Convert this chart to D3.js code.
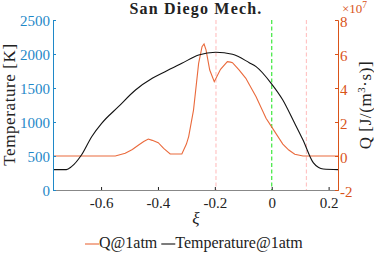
<!DOCTYPE html>
<html>
<head>
<meta charset="utf-8">
<script src="https://cdn.jsdelivr.net/npm/d3@7"></script>
<style>
  body { margin: 0; background: #fff; }
</style>
</head>
<body>
<div id="chart"></div>
<script>
// temperature profile (K) over mixture-fraction coordinate xi
var tempXi = [-0.769, -0.722, -0.704, -0.669, -0.633, -0.598, -0.539, -0.479, -0.42, -0.375,
              -0.316, -0.257, -0.197, -0.138, -0.079, -0.055, -0.002, 0.039, 0.075, 0.11,
              0.146, 0.165, 0.181, 0.233];
var tempK = [300, 300, 343, 515, 784, 980, 1225, 1470, 1642, 1740,
             1863, 1985, 2025, 1995, 1872, 1814, 1569, 1323, 1029, 735,
             402, 330, 309, 300];

// heat release Q, in units of 1e7 J/(m^3 s)
var qXi = [-0.769, -0.55, -0.515, -0.49, -0.468, -0.45, -0.434, -0.42, -0.399, -0.38,
           -0.357, -0.316, -0.3, -0.292, -0.275, -0.257, -0.245, -0.238, -0.231, -0.218,
           -0.202, -0.18, -0.156, -0.145, -0.138, -0.115, -0.091, -0.079, -0.055, -0.02,
           -0.002, 0.039, 0.06, 0.081, 0.11, 0.233];
var qVal = [0, 0, 0.16, 0.38, 0.65, 0.85, 1.0, 0.92, 0.78, 0.45,
            0.12, 0.12, 0.7, 1.14, 2.7, 5.45, 6.43, 6.59, 6.24, 5.06,
            4.37, 5.1, 5.55, 5.52, 5.49, 5.06, 4.57, 4.2, 3.49, 2.22,
            1.76, 0.7, 0.35, 0.1, 0, 0];

var xTicks = [-0.6, -0.4, -0.2, 0, 0.2];
var tTicks = [0, 500, 1000, 1500, 2000, 2500];
var qTicks = [-2, 0, 2, 4, 6, 8];
var markLines = [
  {xi: -0.196, color: "#ffc4c4"},
  {xi: 0, color: "#3de83d"},
  {xi: 0.122, color: "#ffc4c4"}
];

var width = 374, height = 253;
var m = {top: 20, right: 36, bottom: 63, left: 53};
var blue = "#1f88c8", orange = "#d95319";
var serif = "Liberation Serif";

var svg = d3.select("#chart").append("svg")
    .attr("width", width)
    .attr("height", height);

var x = d3.scaleLinear().domain([-0.769, 0.233]).range([m.left, width - m.right]);
var yT = d3.scaleLinear().domain([0, 2500]).range([height - m.bottom, m.top]);
var yQ = d3.scaleLinear().domain([-2, 8]).range([height - m.bottom, m.top]);

// vertical dashed markers
svg.append("g").selectAll("line")
    .data(markLines)
    .enter().append("line")
    .attr("x1", function (d) { return x(d.xi); })
    .attr("x2", function (d) { return x(d.xi); })
    .attr("y1", m.top)
    .attr("y2", height - m.bottom)
    .attr("stroke", function (d) { return d.color; })
    .attr("stroke-width", 1.2)
    .attr("stroke-dasharray", "4,2.5");

// lines
var tLine = d3.line()
    .x(function (d, i) { return x(tempXi[i]); })
    .y(function (d) { return yT(d); })
    .curve(d3.curveMonotoneX);
var qLine = d3.line()
    .x(function (d, i) { return x(qXi[i]); })
    .y(function (d) { return yQ(d); });

svg.append("path")
    .datum(qVal)
    .attr("d", qLine)
    .attr("fill", "none")
    .attr("stroke", "#ea6a3c")
    .attr("stroke-width", 1.1);

svg.append("path")
    .datum(tempK)
    .attr("d", tLine)
    .attr("fill", "none")
    .attr("stroke", "#111")
    .attr("stroke-width", 1.1);

var minus = function (d) { return String(d).replace("−", "-"); };

// bottom axis
var xAxis = svg.append("g")
    .attr("transform", "translate(0," + (height - m.bottom) + ")")
    .call(d3.axisBottom(x).tickValues(xTicks).tickSize(-3).tickFormat(minus));
xAxis.select(".domain").attr("stroke", "#888");
xAxis.selectAll(".tick line").attr("stroke", "#222");
xAxis.selectAll("text").attr("font-size", 15).attr("fill", "#222")
    .attr("y", 17.5).attr("dy", 0);

// left axis
var lAxis = svg.append("g")
    .attr("transform", "translate(" + m.left + ",0)")
    .call(d3.axisLeft(yT).tickValues(tTicks).tickSize(-3).tickPadding(3).tickFormat(d3.format("d")));
lAxis.selectAll(".domain, .tick line").attr("stroke", blue);
lAxis.selectAll("text").attr("font-size", 15).attr("fill", blue).attr("dy", "0.34em");

// right axis
var rAxis = svg.append("g")
    .attr("transform", "translate(" + (width - m.right) + ",0)")
    .call(d3.axisRight(yQ).tickValues(qTicks).tickSize(-3).tickPadding(2).tickFormat(minus));
rAxis.selectAll(".domain, .tick line").attr("stroke", orange);
rAxis.selectAll("text").attr("font-size", 15).attr("fill", orange).attr("dy", "0.4em");

svg.append("text")
    .attr("x", width - m.right + 4)
    .attr("y", 13)
    .attr("font-size", 13)
    .attr("fill", orange)
    .html('×10<tspan dy="-5.5" font-size="9.5">7</tspan>');

// title and labels
svg.append("text")
    .attr("x", 196)
    .attr("y", 13.5)
    .attr("text-anchor", "middle")
    .attr("font-size", 16)
    .attr("font-weight", "bold")
    .attr("letter-spacing", 1.2)
    .attr("fill", "#222")
    .text("San Diego Mech.");

svg.append("text")
    .attr("transform", "translate(14.5,104.5) rotate(-90)")
    .attr("text-anchor", "middle")
    .attr("font-size", 17)
    .attr("letter-spacing", 0.6)
    .attr("fill", "#222")
    .text("Temperature [K]");

svg.append("text")
    .attr("transform", "translate(371,105) rotate(-90)")
    .attr("text-anchor", "middle")
    .attr("font-size", 17)
    .attr("letter-spacing", 0.6)
    .attr("fill", "#222")
    .html('Q [J/(m<tspan dy="-6" font-size="11">3</tspan><tspan dy="6">·s)]</tspan>');

svg.append("text")
    .attr("x", 196)
    .attr("y", 224)
    .attr("text-anchor", "middle")
    .attr("font-size", 17)
    .attr("font-style", "italic")
    .attr("fill", "#222")
    .text("ξ");

// legend
var legend = [
  {label: "Q@1atm", color: "#ea6a3c"},
  {label: "Temperature@1atm", color: "#111"}
];
var lg = svg.append("g").attr("transform", "translate(85,248)");
var lx = 0;
legend.forEach(function (d) {
  lg.append("line")
    .attr("x1", lx).attr("x2", lx + 14)
    .attr("y1", -4).attr("y2", -4)
    .attr("stroke", d.color).attr("stroke-width", 1.1);
  var t = lg.append("text")
    .attr("x", lx + 14)
    .attr("font-size", 16)
    .attr("fill", "#222")
    .style("font-family", serif)
    .text(d.label);
  lx += 14 + t.node().getComputedTextLength() + 4;
});

// serif everywhere, set inline so it wins over the axis defaults
svg.selectAll("g").attr("font-family", null);
svg.selectAll("text").attr("font-family", serif).style("font-family", serif);
</script>
</body>
</html>
